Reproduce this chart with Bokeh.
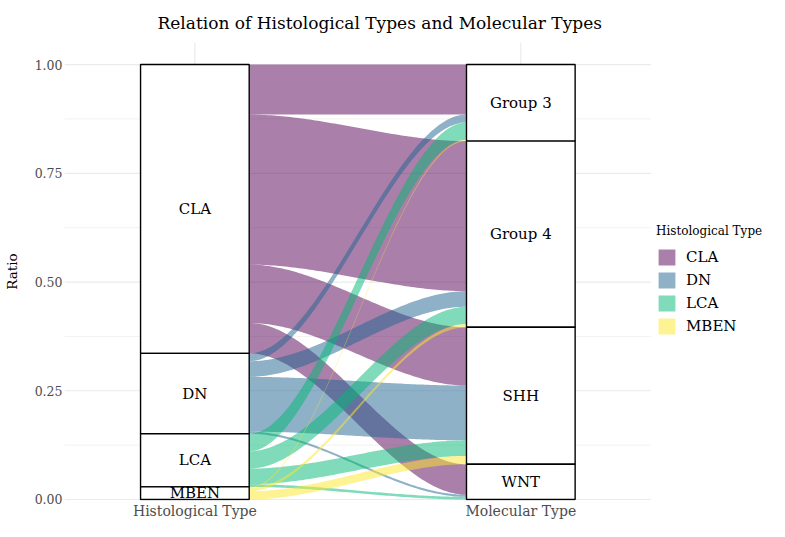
import numpy as np
from bokeh.plotting import figure
from bokeh.models import FixedTicker, NumeralTickFormatter, Legend, LegendItem, Title
from bokeh.core.properties import value
from bokeh.embed import file_html
from bokeh.resources import INLINE

# ---- data (ratios of all cases) ----
hist_types = ["CLA", "DN", "LCA", "MBEN"]
mol_types = ["Group 3", "Group 4", "SHH", "WNT"]
cla_to_mol = [0.115, 0.345, 0.134, 0.070]
dn_to_mol = [0.018, 0.036, 0.126, 0.005]
lca_to_mol = [0.040, 0.040, 0.036, 0.006]
mben_to_mol = [0.003, 0.007, 0.019, 0.000]
hist_colors = ["#550155", "#1E6491", "#00B873", "#FDE725"]
axis_names = ["Histological Type", "Molecular Type"]
y_ticks = [0.0, 0.25, 0.5, 0.75, 1.0]
title_text = "Relation of Histological Types and Molecular Types"

SERIF = "DejaVu Serif"

flows = np.array([cla_to_mol, dn_to_mol, lca_to_mol, mben_to_mol], dtype=float)
flows = flows / flows.sum()
hist_tot = flows.sum(axis=1)
mol_tot = flows.sum(axis=0)
hist_top = 1 - np.concatenate([[0], np.cumsum(hist_tot)[:-1]])
mol_top = 1 - np.concatenate([[0], np.cumsum(mol_tot)[:-1]])

w = 1 / 3
xa, xb = 1.0, 2.0
x0, x1 = xa + w / 2, xb - w / 2
panel_x = (0.6, 2.4)        # extent of the plotting panel
panel_y = (-0.0023, 1.0507)

# frame spans the panel plus the legend area on the right
p = figure(width=769, height=521, x_range=(0.6, 2.763), y_range=panel_y,
           output_backend="svg", toolbar_location=None,
           min_border_left=57, min_border_right=0, min_border_top=34, min_border_bottom=18)
p.outline_line_color = None
p.background_fill_color = "white"
p.border_fill_color = "white"
p.xgrid.grid_line_color = None
p.ygrid.grid_line_color = None

p.title = Title(text=title_text, align="left", offset=93, text_font_size="17px",
                text_font=SERIF, text_font_style="normal", text_color="black", standoff=20)

# grid lines limited to the panel
yt = np.array(y_ticks)
y_minor = (yt[:-1] + yt[1:]) / 2
p.segment(x0=[panel_x[0]] * len(y_minor), x1=[panel_x[1]] * len(y_minor), y0=y_minor, y1=y_minor,
          line_color="#F2F2F2", line_width=1)
p.segment(x0=[panel_x[0]] * len(yt), x1=[panel_x[1]] * len(yt), y0=yt, y1=yt,
          line_color="#EBEBEB", line_width=1.2)
p.segment(x0=[xa, xb], x1=[xa, xb], y0=[-0.05] * 2, y1=[panel_y[1]] * 2,
          line_color="#EBEBEB", line_width=1.2)

t = np.linspace(0, 1, 80)
s = 3 * t ** 2 - 2 * t ** 3
xs_curve = x0 + (x1 - x0) * t

renderers = []
for i, h in enumerate(hist_types):
    xs_list, ys_list = [], []
    for j in range(len(mol_types)):
        v = flows[i, j]
        if v <= 0:
            continue
        lt = hist_top[i] - flows[i, :j].sum()
        rt = mol_top[j] - flows[:i, j].sum()
        top = lt + (rt - lt) * s
        bot = top - v
        xs_list.append(np.concatenate([xs_curve, xs_curve[::-1]]).tolist())
        ys_list.append(np.concatenate([top, bot[::-1]]).tolist())
    r = p.patches(xs_list, ys_list, fill_color=hist_colors[i], fill_alpha=0.5, line_color=None)
    renderers.append((h, r))

# strata
left_tops = hist_top
left_bots = hist_top - hist_tot
right_tops = mol_top
right_bots = mol_top - mol_tot
p.quad(left=[xa - w / 2] * 4, right=[xa + w / 2] * 4, top=left_tops, bottom=left_bots,
       fill_color="white", line_color="black", line_width=1.4)
p.quad(left=[xb - w / 2] * 4, right=[xb + w / 2] * 4, top=right_tops, bottom=right_bots,
       fill_color="white", line_color="black", line_width=1.4)
p.text(x=[xa] * 4, y=(left_tops + left_bots) / 2, text=hist_types, text_align="center",
       text_baseline="middle", text_font=value(SERIF), text_font_size="15px", text_color="black")
p.text(x=[xb] * 4, y=(right_tops + right_bots) / 2, text=mol_types, text_align="center",
       text_baseline="middle", text_font=value(SERIF), text_font_size="15px", text_color="black")

# axes
p.xaxis.ticker = FixedTicker(ticks=[xa, xb], minor_ticks=[])
p.xaxis.major_label_overrides = {1: axis_names[0], 2: axis_names[1]}
p.yaxis.ticker = FixedTicker(ticks=y_ticks, minor_ticks=y_minor.tolist())
p.yaxis.formatter = NumeralTickFormatter(format="0.00")
p.yaxis.axis_label = "Ratio"
for ax in (p.xaxis[0], p.yaxis[0]):
    ax.axis_line_color = None
    ax.major_tick_line_color = None
    ax.minor_tick_line_color = None
    ax.major_tick_in = 0
    ax.major_tick_out = 0
    ax.minor_tick_in = 0
    ax.minor_tick_out = 0
    ax.major_label_text_font = SERIF
    ax.major_label_text_color = "#4D4D4D"
    ax.major_label_standoff = 2
p.xaxis.major_label_text_font_size = "14px"
p.yaxis.major_label_text_font_size = "12.5px"
p.yaxis.axis_label_text_font = SERIF
p.yaxis.axis_label_text_font_size = "13.5px"
p.yaxis.axis_label_text_font_style = "normal"
p.yaxis.axis_label_text_color = "black"
p.yaxis.axis_label_standoff = 12

legend = Legend(items=[LegendItem(label=h, renderers=[r]) for h, r in renderers],
                title="Histological Type", location=(592, 164), orientation="vertical",
                glyph_width=21, glyph_height=20, spacing=3, padding=0, margin=0,
                label_standoff=9, title_standoff=9, border_line_color=None,
                background_fill_alpha=0, label_text_font=SERIF, label_text_font_size="15px",
                title_text_font=SERIF, title_text_font_size="12px", title_text_font_style="normal",
                label_text_color="black", title_text_color="black")
p.add_layout(legend, "center")

open("out.html", "w").write(file_html(p, INLINE))
